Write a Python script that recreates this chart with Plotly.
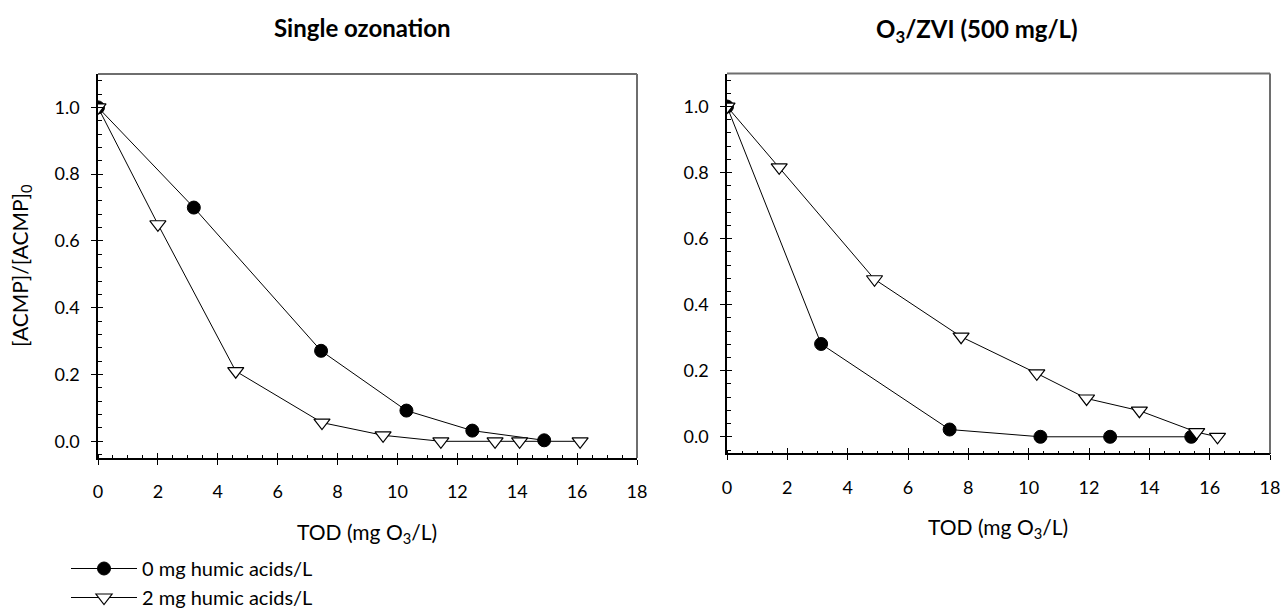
import plotly.graph_objects as go

# ---- data ----
left_x_0ha = [0, 3.2, 7.45, 10.3, 12.5, 14.9]
left_y_0ha = [1.0, 0.70, 0.271, 0.092, 0.032, 0.003]
left_x_2ha = [0, 2.0, 4.6, 7.48, 9.52, 11.45, 13.26, 14.08, 16.1]
left_y_2ha = [1.0, 0.65, 0.21, 0.056, 0.018, 0.0, 0.0, 0.0, 0.0]

right_x_0ha = [0, 3.12, 7.38, 10.39, 12.7, 15.39]
right_y_0ha = [1.0, 0.281, 0.022, 0.0, 0.0, 0.0]
right_x_2ha = [0, 1.73, 4.89, 7.76, 10.27, 11.92, 13.67, 15.57, 16.26]
right_y_2ha = [1.0, 0.816, 0.477, 0.303, 0.192, 0.116, 0.079, 0.014, 0.0]

series_names = ["0 mg humic acids/L", "2 mg humic acids/L"]
titles = ["<b>Single ozonation</b>", "<b>O<sub>3</sub>/ZVI (500 mg/L)</b>"]
x_title = "TOD (mg O<sub>3</sub>/L)"
y_title = "[ACMP]/[ACMP]<sub>0</sub>"

FONT = "Lato"
W, H = 1285, 610

fig = go.Figure()

circle_marker = dict(symbol="circle", size=13, color="black", line=dict(color="black", width=1))
tri_marker = dict(symbol="triangle-down", size=14, color="white", line=dict(color="black", width=1.2))
line_style = dict(color="black", width=1)

fig.add_trace(go.Scatter(x=left_x_0ha, y=left_y_0ha, mode="lines+markers", name=series_names[0],
                         marker=circle_marker, line=line_style, xaxis="x", yaxis="y", showlegend=True))
fig.add_trace(go.Scatter(x=left_x_2ha, y=left_y_2ha, mode="lines+markers", name=series_names[1],
                         marker=tri_marker, line=line_style, xaxis="x", yaxis="y", showlegend=True))
fig.add_trace(go.Scatter(x=right_x_0ha, y=right_y_0ha, mode="lines+markers", name=series_names[0],
                         marker=circle_marker, line=line_style, xaxis="x2", yaxis="y2", showlegend=False))
fig.add_trace(go.Scatter(x=right_x_2ha, y=right_y_2ha, mode="lines+markers", name=series_names[1],
                         marker=tri_marker, line=line_style, xaxis="x2", yaxis="y2", showlegend=False))

# dummy traces so the overlay (inside-tick) axes exist
fig.add_trace(go.Scatter(x=[None], y=[None], xaxis="x3", yaxis="y3", showlegend=False, hoverinfo="skip"))
fig.add_trace(go.Scatter(x=[None], y=[None], xaxis="x4", yaxis="y4", showlegend=False, hoverinfo="skip"))

XR = [0, 18]
YR = [-0.05, 1.1]
left_dom_x = [98 / W, 637 / W]
left_dom_y = [1 - 458 / H, 1 - 74 / H]
right_dom_x = [727 / W, 1270 / W]
right_dom_y = [1 - 453.3 / H, 1 - 73.5 / H]

tickfont = dict(family=FONT, size=18, color="black")


def xax(dom, anchor, main=True, overlay=None):
    d = dict(range=XR, domain=dom, anchor=anchor, dtick=2, tick0=0, showgrid=False, zeroline=False,
             ticklen=5, tickwidth=1, tickcolor="black", fixedrange=True)
    if main:
        d.update(showline=True, linecolor="black", linewidth=1.5, ticks="outside",
                 tickfont=tickfont, ticklabelstandoff=12,
                 minor=dict(dtick=0.5, ticks="inside", ticklen=3, tickcolor="black", tickwidth=1))
    else:
        d.update(showline=False, ticks="inside", showticklabels=False, overlaying=overlay)
    return d


def yax(dom, anchor, main=True, overlay=None):
    d = dict(range=YR, domain=dom, anchor=anchor, dtick=0.2, tick0=0, showgrid=False, zeroline=False,
             ticklen=5, tickwidth=1, tickcolor="black", fixedrange=True, tickformat=".1f")
    if main:
        d.update(showline=True, linecolor="black", linewidth=1.5, ticks="outside",
                 tickfont=tickfont, ticklabelstandoff=8,
                 minor=dict(dtick=0.04, tick0=0, ticks="inside", ticklen=4, tickcolor="black", tickwidth=1))
    else:
        d.update(showline=False, ticks="inside", showticklabels=False, overlaying=overlay)
    return d


fig.update_layout(
    width=W, height=H,
    margin=dict(l=0, r=0, t=0, b=0, autoexpand=False),
    paper_bgcolor="white", plot_bgcolor="white",
    font=dict(family=FONT, color="black"),
    xaxis=xax(left_dom_x, "y"),
    yaxis=yax(left_dom_y, "x"),
    xaxis2=xax(right_dom_x, "y2"),
    yaxis2=yax(right_dom_y, "x2"),
    xaxis3=xax(left_dom_x, "y3", main=False, overlay="x"),
    yaxis3=yax(left_dom_y, "x3", main=False, overlay="y"),
    xaxis4=xax(right_dom_x, "y4", main=False, overlay="x2"),
    yaxis4=yax(right_dom_y, "x4", main=False, overlay="y2"),
    legend=dict(x=66 / W, y=1 - 549 / H, xanchor="left", yanchor="top",
                font=dict(family=FONT, size=20, color="black"),
                bgcolor="rgba(0,0,0,0)", itemwidth=66, tracegroupgap=0),
    showlegend=True,
)

# grey top/right frame lines
for dx, dy in [(left_dom_x, left_dom_y), (right_dom_x, right_dom_y)]:
    fig.add_shape(type="line", xref="paper", yref="paper", x0=dx[0], x1=dx[1], y0=dy[1], y1=dy[1],
                  line=dict(color="#6e6e6e", width=2))
    fig.add_shape(type="line", xref="paper", yref="paper", x0=dx[1], x1=dx[1], y0=dy[0], y1=dy[1],
                  line=dict(color="#6e6e6e", width=2))

ann = []
ann.append(dict(text=titles[0], x=362 / W, y=1 - 28 / H, xref="paper", yref="paper",
                xanchor="center", yanchor="middle", showarrow=False,
                font=dict(family=FONT, size=24, color="black")))
ann.append(dict(text=titles[1], x=977 / W, y=1 - 30 / H, xref="paper", yref="paper",
                xanchor="center", yanchor="middle", showarrow=False,
                font=dict(family=FONT, size=24, color="black")))
ann.append(dict(text=x_title, x=367 / W, y=1 - 533 / H, xref="paper", yref="paper",
                xanchor="center", yanchor="middle", showarrow=False,
                font=dict(family=FONT, size=21, color="black")))
ann.append(dict(text=x_title, x=998 / W, y=1 - 528 / H, xref="paper", yref="paper",
                xanchor="center", yanchor="middle", showarrow=False,
                font=dict(family=FONT, size=21, color="black")))
ann.append(dict(text=y_title, x=21 / W, y=1 - 266 / H, xref="paper", yref="paper",
                xanchor="center", yanchor="middle", showarrow=False, textangle=-90,
                font=dict(family=FONT, size=21, color="black")))
fig.update_layout(annotations=ann)

fig.write_html("out.html", config={"displayModeBar": False},
               post_script="document.body.style.margin='0';document.body.style.overflow='hidden';")
